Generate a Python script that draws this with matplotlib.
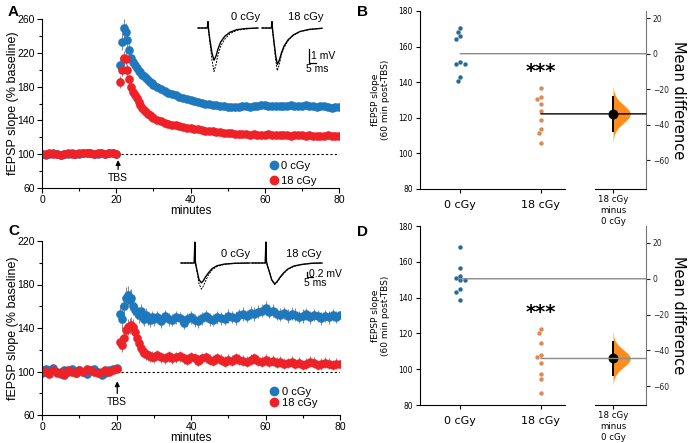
import matplotlib
matplotlib.use('Agg')
import matplotlib.pyplot as plt
import numpy as np
from matplotlib.lines import Line2D
from matplotlib.patches import ConnectionPatch
from matplotlib.ticker import MultipleLocator

plt.rcParams['font.family'] = ['DejaVu Sans']
ARIAL = 'Liberation Sans'

# ---- time course data (minutes, % baseline) ----
t_min = np.concatenate([np.arange(0, 21, 1.0), np.arange(21, 30, 0.5), np.arange(30, 81, 1.0)])

a_blue = [100, 99.5, 100, 101, 100, 99, 100, 100.5, 101, 100, 100, 101, 101.5, 101, 100.5, 100, 101, 100, 101, 101, 100,
          206, 233, 249, 245, 235, 223, 214, 209, 205, 202, 199, 197, 194, 192, 190, 188, 186, 184,
          182, 179, 177, 175, 173, 171, 169.5, 168, 166.5, 165, 164, 163, 162, 161, 160, 159, 158.5, 158, 157, 156.5,
          156, 156, 155.5, 156, 156.5, 157, 156, 157, 157.5, 158, 158, 157, 156.5, 157, 157.5, 156.5, 157, 158, 157, 156.5,
          157, 158, 157.5, 156.5, 156, 156.5, 157, 156, 155, 155.5, 155.5]
a_blue_err = [1.3, 1.5, 1.2, 1.6, 1.4, 1.2, 1.5, 1.3, 1.4, 1.6, 1.3, 1.5, 1.4, 1.2, 1.5, 1.3, 1.4, 1.6, 1.5, 1.3, 1.4,
              9, 10, 11, 10, 9, 8, 7.5, 7, 6.5, 6, 5.5, 5.5, 5, 5, 4.5, 4.5, 4, 4,
              4, 3.8, 3.6, 3.5, 3.4, 3.3, 3.2, 3.1, 3, 3, 2.9, 2.8, 2.8, 2.7, 2.7, 2.6, 2.6, 2.5, 2.5, 2.5,
              2.4, 2.5, 2.4, 2.4, 2.5, 2.4, 2.3, 2.4, 2.3, 2.3, 2.4, 2.3, 2.3, 2.2, 2.3, 2.2, 2.3, 2.2, 2.2, 2.3,
              2.2, 2.2, 2.1, 2.2, 2.1, 2.2, 2.1, 2.1, 2.2, 2.1, 2.1]
a_red = [100, 100.5, 101, 100, 100, 99.5, 100, 101, 100.5, 100, 101, 101.5, 102, 101, 100.5, 101, 101, 100.5, 102, 101.5, 100,
         185, 200, 214, 213, 200, 189, 180, 174, 170, 166, 162, 158.5, 155, 152.5, 150, 148, 146, 144.5,
         143, 141, 139, 137.5, 136, 135, 134, 133, 132, 131.5, 131, 130, 129.5, 129, 128, 127.5, 127, 126.5, 126, 125.5,
         125, 124.5, 124, 124, 123.5, 123.5, 123, 123.5, 123, 122.5, 123, 123.5, 123, 122.5, 122.5, 123, 122.5, 122, 122.5, 123,
         122.5, 122, 122.5, 122, 122, 121.5, 122, 122.5, 122, 121.5, 122]
a_red_err = [1.2, 1.1, 1.3, 1.2, 1.0, 1.2, 1.1, 1.3, 1.2, 1.1, 1.2, 1.3, 1.1, 1.2, 1.0, 1.2, 1.1, 1.3, 1.2, 1.1, 1.2,
             7, 8, 8, 8, 7, 6.5, 6, 5.5, 5, 5, 4.5, 4.5, 4, 4, 3.8, 3.6, 3.5, 3.4,
             3.3, 3.2, 3.1, 3, 2.9, 2.8, 2.8, 2.7, 2.6, 2.6, 2.5, 2.5, 2.4, 2.4, 2.3, 2.3, 2.3, 2.2, 2.2, 2.2,
             2.1, 2.1, 2.1, 2.1, 2, 2, 2, 2, 2, 2, 2, 1.9, 2, 1.9, 1.9, 2, 1.9, 1.9, 2, 1.9,
             1.9, 1.9, 2, 1.9, 1.9, 1.8, 1.9, 1.9, 1.8, 1.9, 1.9]

c_blue = [99, 102, 101, 103, 100, 98, 101, 100, 102, 99, 101, 100, 98, 101, 102, 100, 97, 99, 101, 102, 103,
          153, 148, 160, 168, 170, 166, 168, 160, 157, 155, 152, 156, 150, 148, 152, 149, 147, 150,
          148, 150, 146, 151, 148, 147, 150, 149, 145, 148, 150, 147, 146, 149, 151, 148, 147, 150, 149, 148,
          151, 150, 149, 152, 153, 151, 154, 153, 155, 156, 158, 155, 156, 153, 152, 154, 151, 153, 152, 150,
          151, 153, 150, 152, 151, 149, 151, 150, 152, 150, 152]
c_blue_err = [2.5, 3, 2.8, 3.2, 2.6, 3, 2.7, 2.9, 3.1, 2.6, 2.8, 3, 2.7, 2.9, 3.2, 2.8, 3, 2.6, 2.9, 3, 3.1,
              8, 9, 10, 10, 9, 9, 8, 8, 7, 7, 7, 6.5, 6.5, 6, 6, 6, 6, 6,
              6, 5.5, 6, 5.8, 6.2, 5.6, 6, 5.7, 6.1, 5.8, 5.9, 6.2, 5.7, 6, 5.8, 6.1, 5.6, 5.9, 6, 5.7,
              6.2, 5.8, 6, 5.9, 6.3, 5.7, 6, 6.2, 5.8, 6.1, 6.4, 5.9, 6.1, 5.8, 6, 5.7, 6.2, 5.9, 6, 5.8,
              6.1, 5.7, 6, 5.9, 5.8, 6.1, 5.7, 6, 5.9, 5.8, 6]
c_red = [101, 100, 98, 101, 99, 100, 97, 101, 100, 99, 101, 100, 102, 101, 100, 99, 100, 101, 100, 101, 102,
         127, 124, 131, 138, 141, 142, 143, 141, 136, 131, 126, 122, 119, 117, 116, 115, 114, 113.5,
         113, 115, 113, 112, 114, 112, 113, 114, 112, 111, 113, 112, 110, 112, 113, 111, 110, 112, 111, 109,
         111, 110, 112, 111, 110, 109, 111, 112, 110, 109, 111, 109, 110, 108, 109, 107, 108, 109, 107, 108,
         106, 107, 109, 108, 106, 107, 108, 107, 106, 107, 107]
c_red_err = [2.6, 2.9, 3.1, 2.7, 3, 2.8, 3.2, 2.6, 2.9, 3, 2.7, 2.8, 3.1, 2.9, 2.6, 3, 2.8, 2.7, 3, 2.9, 2.8,
             6, 6.5, 7, 7, 7.5, 7.5, 7, 7, 6.5, 6, 6, 5.5, 5.5, 5, 5, 5, 5, 5,
             5, 4.8, 5.1, 4.9, 5.2, 4.7, 5, 4.9, 5.1, 4.8, 5, 5.2, 4.8, 4.9, 5.1, 4.7, 5, 4.9, 5.2, 4.8,
             5, 4.9, 5.1, 4.8, 5, 5.2, 4.9, 5, 4.8, 5.1, 4.9, 5, 4.8, 5.2, 4.9, 5, 4.7, 5.1, 4.9, 5,
             4.8, 5.1, 4.9, 5, 4.8, 5.2, 4.9, 5, 4.8, 5.1, 5]

# ---- 60 min post-TBS slopes (Gardner-Altman panels) ----
groups = ['0 cGy', '18 cGy']
b_ctrl = [170.6, 168.4, 166.1, 164.1, 151.5, 150.1, 150.1, 142.8, 140.5]
b_test = [136.9, 131.5, 130.4, 127.6, 123.8, 118.8, 113.5, 111.3, 106.0]
d_ctrl = [168.3, 156.7, 152.3, 151.1, 149.8, 149.6, 144.8, 143.3, 138.8]
d_test = [122.3, 120.0, 114.6, 107.9, 107.0, 103.6, 97.3, 94.3, 86.9]

# ---- inset traces (ms, mV) ----
a_t0 = [6, 13, 13.5, 14, 15, 16.5, 18, 19.5, 21, 23, 26, 30, 35, 42, 51]
a_v0 = [0, 0, 0.45, -0.2, -0.9, -1.8, -2.3, -2.0, -1.5, -1.0, -0.6, -0.3, -0.12, -0.04, 0]
a_v0d = [0, 0, 0.45, -0.2, -1.1, -2.3, -3.1, -2.6, -1.9, -1.3, -0.8, -0.4, -0.17, -0.06, 0]
a_t18 = [54, 61, 61.5, 62, 63, 64.3, 65.5, 67, 68.5, 70.5, 73.5, 77.5, 82.5, 89.5, 99]
a_v18 = [0, 0, 0.45, -0.2, -1.0, -2.0, -2.6, -2.3, -1.8, -1.3, -0.85, -0.5, -0.25, -0.1, -0.02]
a_v18d = [0, 0, 0.45, -0.2, -1.1, -2.3, -3.05, -2.6, -1.95, -1.4, -0.9, -0.52, -0.26, -0.1, -0.02]
c_t0 = [5, 16, 16.5, 17, 17.5, 18.5, 20, 22, 23.5, 25.5, 28, 31, 35, 41, 50, 62.5]
c_v0 = [0, 0, 0.76, 0.05, -0.1, -0.3, -0.6, -0.72, -0.65, -0.5, -0.35, -0.2, -0.1, -0.04, -0.01, 0]
c_v0d = [0, 0, 0.76, 0.05, -0.1, -0.35, -0.75, -0.95, -0.85, -0.65, -0.42, -0.25, -0.12, -0.05, -0.01, 0]
c_t18 = [64, 75.2, 75.7, 76.2, 77, 78.5, 80.5, 83, 85, 87.5, 90.5, 94, 99, 106, 114, 122.5]
c_v18 = [0, 0, 0.76, 0.05, -0.1, -0.3, -0.6, -0.76, -0.68, -0.52, -0.36, -0.22, -0.11, -0.05, -0.01, 0]
c_v18d = [0, 0, 0.76, 0.05, -0.1, -0.3, -0.62, -0.78, -0.7, -0.54, -0.38, -0.23, -0.12, -0.05, -0.01, 0]

BLUE = '#1e78be'
RED = '#ee2226'
SW_BLUE = '#23699a'
SW_ORANGE = '#dc8a55'
VIOLIN = '#ff8c1f'

W, H = 688, 443
fig = plt.figure(figsize=(W / 100, H / 100), dpi=100)


def px_box(x0, y0, x1, y1):
    return [x0 / W, 1 - y1 / H, (x1 - x0) / W, (y1 - y0) / H]


def arial(ax):
    for lab in ax.get_xticklabels() + ax.get_yticklabels():
        lab.set_family(ARIAL)


def time_panel(box, blue, blue_err, red, red_err, ylim, tip, txt_y, leg_y, spacing):
    ax = fig.add_axes(box)
    for vals, err, col in [(blue, blue_err, BLUE), (red, red_err, RED)]:
        ax.errorbar(t_min, vals, yerr=err, fmt='o', ms=5.2, color=col, mec=col,
                    ecolor='#8c8c8c', elinewidth=0.8, capsize=0)
    ax.hlines(100, 21.2, 80, colors='k', linestyles=(0, (2, 2)), lw=0.8, zorder=0)
    ax.set_xlim(0, 80)
    ax.set_ylim(*ylim)
    ax.set_yticks(np.arange(ylim[0], ylim[1] + 1, 40))
    ax.yaxis.set_minor_locator(MultipleLocator(20))
    ax.set_xticks([0, 20, 40, 60, 80])
    ax.xaxis.set_minor_locator(MultipleLocator(10))
    for s in ['top', 'right']:
        ax.spines[s].set_visible(False)
    ax.tick_params(labelsize=7.5, length=3.5, width=0.8, pad=1.5)
    ax.tick_params(which='minor', length=2, width=0.8)
    arial(ax)
    ax.set_xlabel('minutes', fontsize=8.5, family=ARIAL, labelpad=0)
    ax.set_ylabel('fEPSP slope (% baseline)', fontsize=9, family=ARIAL, labelpad=-1)
    ax.annotate('TBS', xy=tip, xytext=(tip[0], txt_y), ha='center', va='center',
                fontsize=7.5, family=ARIAL,
                arrowprops=dict(arrowstyle='-|>', color='k', lw=0.9, mutation_scale=7,
                                shrinkA=0.5, shrinkB=0))
    handles = [Line2D([], [], marker='o', ls='', color=c, ms=6) for c in (BLUE, RED)]
    ax.legend(handles, groups, loc='center left', bbox_to_anchor=(0.765, leg_y),
              frameon=False, borderpad=0, borderaxespad=0, handlelength=0.8,
              handletextpad=0.3, labelspacing=spacing, prop={'family': ARIAL, 'size': 8})
    return ax


def inset(box, xlim, ylim, traces, bar, bar_txt, lbls):
    ax = fig.add_axes(box)
    ax.axis('off')
    ax.set_xlim(*xlim)
    ax.set_ylim(*ylim)
    for t, v, vd in traces:
        ax.plot(t, vd, color='k', lw=0.7, ls=(0, (2, 1.2)))
        ax.plot(t, v, color='k', lw=1.0)
    bx, by, bw, bh = bar
    ax.plot([bx, bx, bx + bw], [by + bh, by, by], color='k', lw=0.9)
    ax.text(bx + 1.5, by + bh / 2, bar_txt, fontsize=7.5, family=ARIAL, ha='left', va='center')
    ax.text(bx - 2.5, by - (ylim[1] - ylim[0]) * 0.09, '5 ms', fontsize=7.5, family=ARIAL,
            ha='left', va='center')
    for (x, y, s) in lbls:
        ax.text(x, y, s, fontsize=8, family=ARIAL, ha='center', va='center')


def swarm_x(ax, x0, vals, d):
    tr = ax.transData
    placed = []
    out = []
    for v in vals:
        cx, cy = tr.transform((x0, v))
        best = None
        for k in range(0, 15):
            for sgn in ([1] if k == 0 else [-1, 1]):
                px = cx + sgn * k * d * 0.5
                if all((px - qx) ** 2 + (cy - qy) ** 2 >= d * d for qx, qy in placed):
                    best = px
                    break
            if best is not None:
                break
        placed.append((best, cy))
        out.append(tr.inverted().transform((best, cy))[0])
    return out


def ga_panel(y0, y1, ctrl, test, line_col, star_y):
    ax = fig.add_axes(px_box(420, y0, 565, y1))
    ax2 = fig.add_axes(px_box(595, y0, 646, y1))
    ax.set_xlim(-0.5, 1.3)
    ax.set_ylim(80, 180)
    m0, m1 = np.mean(ctrl), np.mean(test)
    diff = m1 - m0
    se = np.sqrt(np.var(ctrl, ddof=1) / len(ctrl) + np.var(test, ddof=1) / len(test))
    ax.scatter(swarm_x(ax, 0, ctrl, 4.3), ctrl, s=10, color=SW_BLUE, lw=0, zorder=3)
    ax.scatter(swarm_x(ax, 1, test, 4.3), test, s=10, color=SW_ORANGE, lw=0, zorder=3)
    ax.set_xticks([0, 1])
    ax.set_xticklabels(groups, fontsize=8)
    ax.set_yticks(np.arange(80, 181, 20))
    ax.tick_params(axis='y', labelsize=5.5, length=3, width=0.8, pad=2)
    ax.tick_params(axis='x', length=3, width=0.8, pad=5)
    for s in ['top', 'right']:
        ax.spines[s].set_visible(False)
    ax.set_ylabel('fEPSP slope\n(60 min post-TBS)', fontsize=6.5, labelpad=6)
    ax.text(1, star_y, '***', ha='center', va='center', fontsize=14, fontweight='bold')

    ax2.set_xlim(-0.55, 1.0)
    ax2.set_ylim(80 - m0, 180 - m0)
    yy = np.linspace(diff - 3 * se, diff + 3 * se, 200)
    dens = np.exp(-0.5 * ((yy - diff) / se) ** 2)
    ax2.fill_betweenx(yy, 0, dens * 0.52, color=VIOLIN, lw=0, zorder=1)
    ax2.vlines(0, diff - 1.96 * se, diff + 1.96 * se, color='k', lw=1.4, zorder=3)
    ax2.scatter([0], [diff], s=38, color='k', zorder=4)
    ax2.set_xticks([0])
    ax2.set_xticklabels(['18 cGy\nminus\n0 cGy'], fontsize=6.2, linespacing=1.3)
    ax2.yaxis.tick_right()
    ax2.yaxis.set_label_position('right')
    ax2.set_yticks([-60, -40, -20, 0, 20])
    ax2.tick_params(axis='y', labelsize=5.5, length=3, width=0.8, pad=2, colors='#222')
    ax2.tick_params(axis='x', length=3, width=0.8, pad=1)
    for s in ['top', 'left']:
        ax2.spines[s].set_visible(False)
    ax2.spines['right'].set_color('#777')
    ax2.set_ylabel('Mean difference', fontsize=10.5, rotation=270, labelpad=12)

    c1 = ConnectionPatch(xyA=(0, m0), coordsA=ax.transData, xyB=(1, 0),
                         coordsB=ax2.get_yaxis_transform(), color='#8a8a8a', lw=1.0)
    c2 = ConnectionPatch(xyA=(1, m1), coordsA=ax.transData, xyB=(1, diff),
                         coordsB=ax2.get_yaxis_transform(), color=line_col, lw=1.0)
    fig.add_artist(c1)
    fig.add_artist(c2)


# Panel A
time_panel(px_box(42, 19, 339, 188), a_blue, a_blue_err, a_red, a_red_err,
           (60, 260), (20.5, 93), 72, 0.085, 0.45)
inset(px_box(190, 12, 330, 80), (0, 105), (-3.714, 1.143),
      [(a_t0, a_v0, a_v0d), (a_t18, a_v18, a_v18d)],
      (89.25, -2.5, 5, 1.0), '1 mV',
      [(42, 0.79, '0 cGy'), (87, 0.79, '18 cGy')])

# Panel C
time_panel(px_box(42, 241, 340, 415), c_blue, c_blue_err, c_red, c_red_err,
           (60, 220), (20.2, 91), 72, 0.1, 0.05)
inset(px_box(175, 235, 335, 300), (0, 133.3), (-1.345, 1.018),
      [(c_t0, c_v0, c_v0d), (c_t18, c_v18, c_v18d)],
      (110, -0.51, 5, 0.2), '0.2 mV',
      [(50.8, 0.33, '0 cGy'), (107.5, 0.33, '18 cGy')])

# Panels B and D
ga_panel(11, 189, b_ctrl, b_test, 'k', 146)
ga_panel(226, 405, d_ctrl, d_test, '#8a8a8a', 131.5)

for x, y, s in [(8, 12, 'A'), (357, 12, 'B'), (8, 231, 'C'), (357, 232, 'D')]:
    fig.text(x / W, 1 - y / H, s, fontsize=11, fontweight='bold', family=ARIAL,
             ha='left', va='center')

fig.savefig('out.png', dpi=100)
